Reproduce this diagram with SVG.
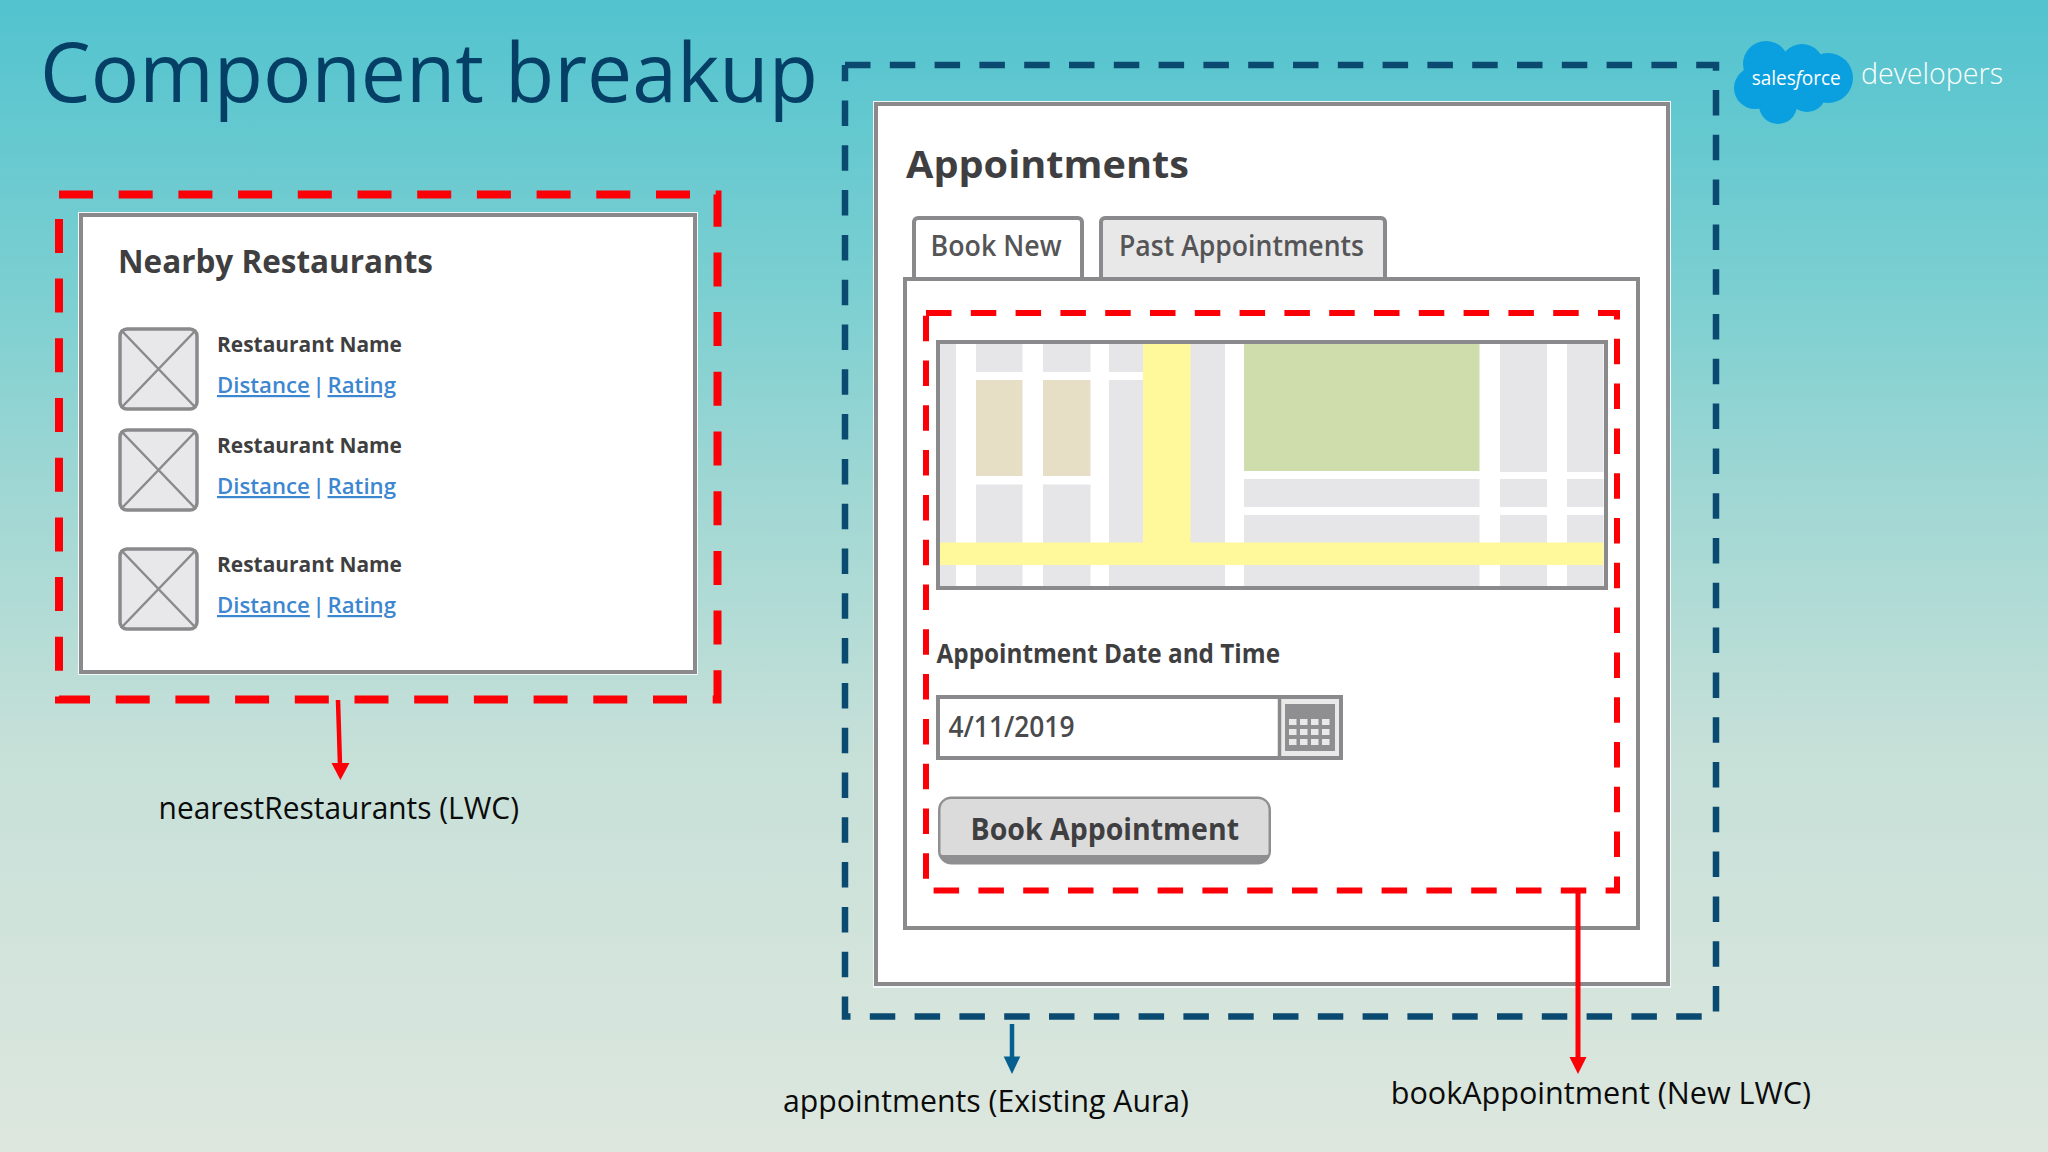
<svg xmlns="http://www.w3.org/2000/svg" width="2048" height="1152" viewBox="0 0 2048 1152">
<style>
text{font-family:"Open Sans","Liberation Sans",sans-serif}
.wf{fill:#fff;stroke:#8a898b;stroke-width:4}
.halo{fill:none;stroke:#f4f8f8;stroke-width:3}
.h{font-weight:700;fill:#3f3f41}
.nm{font-size:21px;font-weight:700;fill:#3f3f41}
.lk{font-size:22px;font-weight:600;fill:#3d86d0;word-spacing:-3px}
.ul{text-decoration:underline}
.lb{font-size:31px;fill:#0b0b0b}
.rd{fill:none;stroke:#fb0007;stroke-dasharray:34 25.7;stroke-width:8}
.rd2{fill:none;stroke:#fb0007;stroke-dasharray:25.5 19.3;stroke-width:6}
.bd{fill:none;stroke:#0a4a70;stroke-dasharray:25.5 19.3;stroke-width:6.5}
.th{fill:#e8e7e9;stroke:#8a898b;stroke-width:3.5}
.x{stroke:#8a898b;stroke-width:2.5;fill:none}
.g{fill:#e6e5e7}.y{fill:#fff99c}.b{fill:#e7dfc5}
.c{fill:#e9e9e9}
</style>
<defs>
<linearGradient id="bg" x1="0" y1="0" x2="0" y2="1">
<stop offset="0" stop-color="#52c3cf"/>
<stop offset="0.25" stop-color="#7bcfd1"/>
<stop offset="0.45" stop-color="#a4d8d4"/>
<stop offset="0.65" stop-color="#c6e0d8"/>
<stop offset="1" stop-color="#dde7de"/>
</linearGradient>
</defs>
<rect id="background" width="2048" height="1152" fill="url(#bg)"/>
<text id="title" x="40" y="102" font-size="82" font-weight="400" fill="#063f66" textLength="778" lengthAdjust="spacingAndGlyphs">Component breakup</text>
<g id="logo">
<g fill="#0a9fdf"><circle cx="1766" cy="64" r="23"/><circle cx="1802" cy="66" r="22"/><circle cx="1828" cy="78" r="25"/><circle cx="1755" cy="88" r="21"/><circle cx="1778" cy="105" r="19"/><circle cx="1807" cy="93" r="19"/><rect x="1756" y="62" width="72" height="36"/></g>
<text x="1751.7" y="85" font-size="20" fill="#fff" textLength="89" lengthAdjust="spacingAndGlyphs">sales<tspan font-style="italic">f</tspan>orce</text>
<text x="1861" y="84" font-size="29" font-weight="300" fill="#fff" textLength="142" lengthAdjust="spacingAndGlyphs">developers</text>
</g>
<g id="nearby-card">
<rect class="halo" x="79.500" y="213.500" width="617" height="460"/>
<rect class="wf" x="81" y="215" width="614" height="457"/>
<text class="h" x="118" y="273" font-size="32" textLength="315" lengthAdjust="spacingAndGlyphs">Nearby Restaurants</text>
<g id="restaurant-1">
<rect class="th" x="120" y="329" width="77" height="80" rx="7"/><path class="x" d="M121 330L196 408M196 330L121 408"/>
<text class="nm" x="217" y="352" textLength="185" lengthAdjust="spacingAndGlyphs">Restaurant Name</text>
<text class="lk" x="217" y="393" textLength="179" lengthAdjust="spacingAndGlyphs"><tspan class="ul">Distance</tspan> | <tspan class="ul">Rating</tspan></text>
</g>
<g id="restaurant-2">
<rect class="th" x="120" y="430" width="77" height="80" rx="7"/><path class="x" d="M121 431L196 509M196 431L121 509"/>
<text class="nm" x="217" y="453" textLength="185" lengthAdjust="spacingAndGlyphs">Restaurant Name</text>
<text class="lk" x="217" y="494" textLength="179" lengthAdjust="spacingAndGlyphs"><tspan class="ul">Distance</tspan> | <tspan class="ul">Rating</tspan></text>
</g>
<g id="restaurant-3">
<rect class="th" x="120" y="549" width="77" height="80" rx="7"/><path class="x" d="M121 550L196 628M196 550L121 628"/>
<text class="nm" x="217" y="572" textLength="185" lengthAdjust="spacingAndGlyphs">Restaurant Name</text>
<text class="lk" x="217" y="613" textLength="179" lengthAdjust="spacingAndGlyphs"><tspan class="ul">Distance</tspan> | <tspan class="ul">Rating</tspan></text>
</g>
</g>
<g id="appointments-card">
<rect class="halo" x="874.500" y="102.500" width="795" height="884"/>
<rect class="wf" x="876" y="104" width="792" height="880"/>
<text class="h" x="906" y="178" font-size="38" textLength="283" lengthAdjust="spacingAndGlyphs">Appointments</text>
<g id="tab-book-new">
<path class="wf" d="M914 280V222a4 4 0 0 1 4-4H1078a4 4 0 0 1 4 4V280"/>
<text x="930.500" y="256" font-size="28" font-weight="600" fill="#555557" textLength="131" lengthAdjust="spacingAndGlyphs">Book New</text>
</g>
<g id="tab-past">
<path class="wf" style="fill:#e8e8e8" d="M1101 280V222a4 4 0 0 1 4-4H1381a4 4 0 0 1 4 4V280"/>
<text x="1119" y="256" font-size="28" font-weight="600" fill="#555557" textLength="245" lengthAdjust="spacingAndGlyphs">Past Appointments</text>
</g>
<rect id="tab-panel" class="wf" x="905" y="279" width="733" height="649"/>
<g id="map">
<rect x="938" y="342" width="668" height="246" fill="#fff"/>
<rect class="g" x="939" y="343" width="17" height="243"/>
<rect class="g" x="976" y="343" width="46.500" height="29"/><rect class="b" x="976" y="380" width="46.500" height="96"/><rect class="g" x="976" y="484.500" width="46.500" height="101.500"/>
<rect class="g" x="1043" y="343" width="47.500" height="29"/><rect class="b" x="1043" y="380" width="47.500" height="96"/><rect class="g" x="1043" y="484.500" width="47.500" height="101.500"/>
<rect class="g" x="1109" y="343" width="34" height="29"/><rect class="g" x="1109" y="380" width="34" height="206"/>
<rect class="g" x="1143" y="560" width="47" height="26"/>
<rect class="g" x="1190" y="343" width="35" height="243"/>
<rect x="1244" y="343" width="235.500" height="128" fill="#cfddac"/><rect class="g" x="1244" y="479" width="235.500" height="28"/><rect class="g" x="1244" y="515" width="235.500" height="71"/>
<rect class="g" x="1500" y="343" width="47" height="129"/><rect class="g" x="1500" y="479" width="47" height="28"/><rect class="g" x="1500" y="515" width="47" height="71"/>
<rect class="g" x="1567" y="343" width="36.500" height="129"/><rect class="g" x="1567" y="479" width="36.500" height="28"/><rect class="g" x="1567" y="515" width="36.500" height="71"/>
<rect class="y" x="1143" y="343" width="47.500" height="200"/>
<rect class="y" x="939" y="542.500" width="664.500" height="22.500"/>
<rect x="938" y="342" width="668" height="246" fill="none" stroke="#8a898b" stroke-width="4"/>
</g>
<text class="h" x="936.500" y="662.500" font-size="27" textLength="343.500" lengthAdjust="spacingAndGlyphs">Appointment Date and Time</text>
<g id="date-input">
<rect class="wf" x="938" y="697" width="403" height="61"/>
<rect x="1280" y="699" width="59" height="57" fill="#e9e9e9"/>
<path d="M1279.500 697V758" stroke="#8a898b" stroke-width="3.500"/>
<rect x="1285" y="704" width="50" height="47" fill="#8f8e90"/>
<rect class="c" x="1289" y="719" width="7.500" height="6"/><rect class="c" x="1300" y="719" width="7.500" height="6"/><rect class="c" x="1311" y="719" width="7.500" height="6"/><rect class="c" x="1322" y="719" width="7.500" height="6"/>
<rect class="c" x="1289" y="729" width="7.500" height="6"/><rect class="c" x="1300" y="729" width="7.500" height="6"/><rect class="c" x="1311" y="729" width="7.500" height="6"/><rect class="c" x="1322" y="729" width="7.500" height="6"/>
<rect class="c" x="1289" y="739" width="7.500" height="6"/><rect class="c" x="1300" y="739" width="7.500" height="6"/><rect class="c" x="1311" y="739" width="7.500" height="6"/><rect class="c" x="1322" y="739" width="7.500" height="6"/>
<text x="948.500" y="736.500" font-size="28" font-weight="600" fill="#4a4a4c" textLength="126" lengthAdjust="spacingAndGlyphs">4/11/2019</text>
</g>
<g id="book-button">
<rect x="939.500" y="798" width="330" height="65" rx="12" fill="#8f8e90" stroke="#8f8e90" stroke-width="3"/>
<path d="M940.500 853V809a10 10 0 0 1 10-10H1258.500a10 10 0 0 1 10 10V853a2 2 0 0 1-2 2H942.500a2 2 0 0 1-2-2Z" fill="#dcdbdc"/>
<text class="h" x="970.500" y="840" font-size="30" textLength="268.500" lengthAdjust="spacingAndGlyphs">Book Appointment</text>
</g>
</g>
<g id="red-box-nearest"><path class="rd" d="M59 194.500H717.500V699.500H59V194.500"/></g>
<g id="red-box-book"><path class="rd2" d="M926 313H1617V890.500H926V313"/></g>
<g id="blue-box-appointments"><path class="bd" d="M845 65H1716V1016.500H845V65"/></g>
<g id="connectors">
<path d="M338 700L340 765" stroke="#fb0007" stroke-width="4.500" fill="none"/>
<path d="M331.500 763H349.500L340.400 780Z" fill="#fb0007"/>
<path d="M1012 1024V1058" stroke="#05608f" stroke-width="4.500" fill="none"/>
<path d="M1003.700 1056.500H1020.300L1012 1074Z" fill="#05608f"/>
<path d="M1578 890V1058" stroke="#fb0007" stroke-width="5" fill="none"/>
<path d="M1569.500 1057H1586.500L1578 1074Z" fill="#fb0007"/>
</g>
<g id="labels">
<text class="lb" x="158.600" y="819" textLength="360.400" lengthAdjust="spacingAndGlyphs">nearestRestaurants (LWC)</text>
<text class="lb" x="783" y="1112" textLength="406" lengthAdjust="spacingAndGlyphs">appointments (Existing Aura)</text>
<text class="lb" x="1390.700" y="1103.500" textLength="420.300" lengthAdjust="spacingAndGlyphs">bookAppointment (New LWC)</text>
</g>
</svg>
